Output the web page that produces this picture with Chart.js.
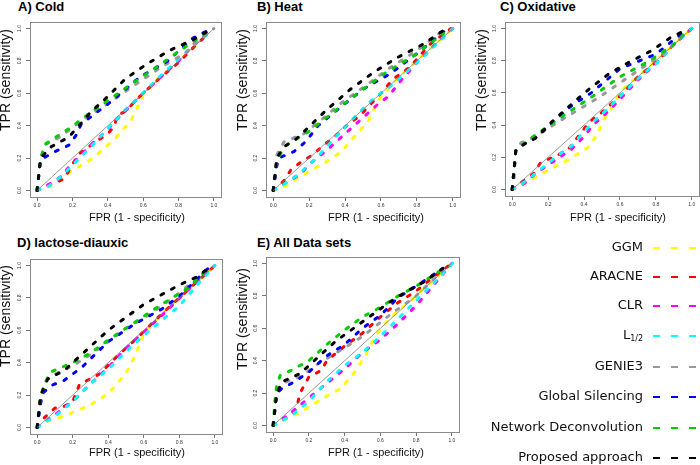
<!DOCTYPE html>
<html>
<head>
<meta charset="utf-8">
<script src="https://cdn.jsdelivr.net/npm/chart.js@4.4.1/dist/chart.umd.min.js"></script>
<style>
  body { margin: 0; background: #fff; width: 700px; height: 465px; overflow: hidden; position: relative; font-family: "Liberation Sans", Arial, sans-serif; }
  canvas { position: absolute; }
  .ptitle { position: absolute; font: bold 13px/13px "Liberation Sans", Arial, sans-serif; color: #000; white-space: nowrap; }
  .lg-text { position: absolute; left: 440px; width: 203px; text-align: right; font: 13px/16px "DejaVu Sans", Verdana, sans-serif; color: #111; white-space: nowrap; }
  .lg-text sub { font-size: 8px; vertical-align: -2px; line-height: 0; }
  .lg-dash { position: absolute; left: 653px; height: 2px; }
  .lg-dash span { display: inline-block; position: absolute; top: 0; width: 7px; height: 2px; }
</style>
</head>
<body>

<div class="ptitle" style="left:18px;top:0px">A) Cold</div>
<div class="ptitle" style="left:257px;top:0px">B) Heat</div>
<div class="ptitle" style="left:500px;top:0px">C) Oxidative</div>
<div class="ptitle" style="left:17px;top:236px">D) lactose-diauxic</div>
<div class="ptitle" style="left:257px;top:236px">E) All Data sets</div>

<canvas id="cold" width="230" height="232" style="left:0;top:0"></canvas>
<canvas id="heat" width="235" height="232" style="left:230px;top:0"></canvas>
<canvas id="oxi" width="235" height="232" style="left:465px;top:0"></canvas>
<canvas id="lac" width="230" height="233" style="left:0;top:232px"></canvas>
<canvas id="all" width="235" height="233" style="left:230px;top:232px"></canvas>

<div id="legend"></div>

<script>
// methods and colours (legend order)
var methods = ['GGM', 'ARACNE', 'CLR', 'L<sub>1/2</sub>', 'GENIE3', 'Global Silencing', 'Network Deconvolution', 'Proposed approach'];
var methodColors = ['#ffff00', '#ff0000', '#ff00ff', '#00ffff', '#999999', '#0000ff', '#00cd00', '#000000'];
var tickValues = [0, 0.2, 0.4, 0.6, 0.8, 1.0];
var diagonal = [[0, 0], [1, 1]];

// ROC points [FPR, TPR]
// A) Cold
var coldGGM = [[0,0],[0.08,0.03],[0.19,0.12],[0.29,0.18],[0.38,0.26],[0.44,0.32],[0.53,0.43],[0.57,0.52],[0.6,0.59],[0.69,0.7],[0.8,0.79],[0.9,0.9],[0.97,0.97]];
var coldARACNE = [[0,0],[0.07,0.035],[0.15,0.07],[0.19,0.14],[0.23,0.22],[0.33,0.3],[0.4,0.35],[0.44,0.4],[0.45,0.46],[0.5,0.49],[0.58,0.58],[0.7,0.7],[0.8,0.79],[0.9,0.9],[0.97,0.97]];
var coldCLR = [[0,0],[0.07,0.04],[0.14,0.09],[0.19,0.16],[0.24,0.21],[0.33,0.31],[0.4,0.375],[0.44,0.43],[0.49,0.48],[0.58,0.58],[0.65,0.65],[0.75,0.75],[0.8,0.8],[0.9,0.92],[0.97,0.97]];
var coldL12 = [[0,0],[0.07,0.03],[0.14,0.09],[0.24,0.2],[0.33,0.3],[0.44,0.43],[0.5,0.5],[0.56,0.56],[0.7,0.71],[0.85,0.86],[0.9,0.91],[0.97,0.97]];
var coldGENIE3 = [[0,0],[0.01,0.1],[0.02,0.19],[0.04,0.28],[0.13,0.33],[0.25,0.43],[0.42,0.55],[0.55,0.65],[0.7,0.76],[0.84,0.85],[0.95,0.96],[1,1]];
var coldGlobal = [[0,0],[0.02,0.19],[0.1,0.24],[0.18,0.28],[0.22,0.34],[0.25,0.41],[0.42,0.55],[0.58,0.7],[0.74,0.8],[0.88,0.94],[0.96,0.985]];
var coldND = [[0,0],[0.02,0.2],[0.05,0.29],[0.185,0.385],[0.3,0.48],[0.42,0.57],[0.55,0.67],[0.7,0.78],[0.83,0.88],[0.95,0.97],[1,1]];
var coldProposed = [[0,0],[0.02,0.2],[0.08,0.27],[0.18,0.33],[0.3,0.48],[0.39,0.57],[0.5,0.69],[0.62,0.78],[0.75,0.865],[0.88,0.93],[0.96,0.98]];

// B) Heat
var heatGGM = [[0,0],[0.07,0.03],[0.2,0.12],[0.3,0.18],[0.38,0.24],[0.45,0.33],[0.53,0.43],[0.56,0.5],[0.6,0.58],[0.7,0.7],[0.8,0.8],[0.9,0.9],[1,1]];
var heatARACNE = [[0,0],[0.06,0.06],[0.1,0.13],[0.16,0.18],[0.22,0.22],[0.28,0.28],[0.34,0.33],[0.41,0.4],[0.49,0.47],[0.54,0.53],[0.6,0.6],[0.67,0.69],[0.76,0.76],[0.87,0.9],[0.99,1]];
var heatCLR = [[0,0],[0.06,0.04],[0.15,0.1],[0.21,0.17],[0.3,0.25],[0.4,0.35],[0.5,0.45],[0.58,0.53],[0.64,0.58],[0.72,0.69],[0.8,0.79],[0.9,0.9],[1,1]];
var heatL12 = [[0,0],[0.05,0.03],[0.14,0.1],[0.24,0.2],[0.33,0.31],[0.45,0.45],[0.55,0.56],[0.65,0.64],[0.75,0.74],[0.85,0.84],[1,1]];
var heatGENIE3 = [[0,0],[0.01,0.05],[0.02,0.22],[0.06,0.3],[0.17,0.35],[0.26,0.43],[0.39,0.55],[0.5,0.635],[0.64,0.75],[0.8,0.865],[0.95,0.99]];
var heatGlobal = [[0,0],[0.02,0.15],[0.03,0.2],[0.115,0.24],[0.18,0.3],[0.25,0.4],[0.37,0.51],[0.5,0.625],[0.65,0.72],[0.8,0.845],[0.95,0.98]];
var heatND = [[0,0],[0.02,0.18],[0.06,0.27],[0.2,0.365],[0.32,0.47],[0.47,0.6],[0.63,0.73],[0.78,0.83],[0.95,0.97]];
var heatProposed = [[0,0],[0.02,0.2],[0.06,0.27],[0.13,0.32],[0.29,0.49],[0.43,0.625],[0.56,0.73],[0.69,0.82],[0.83,0.9],[0.95,0.99]];

// C) Oxidative
var oxiGGM = [[0,0],[0.07,0.04],[0.2,0.12],[0.32,0.19],[0.42,0.26],[0.48,0.35],[0.5,0.42],[0.55,0.5],[0.6,0.6],[0.64,0.65],[0.7,0.7],[0.8,0.8],[1,1]];
var oxiARACNE = [[0,0],[0.02,0.02],[0.12,0.1],[0.16,0.17],[0.25,0.21],[0.32,0.26],[0.43,0.42],[0.5,0.48],[0.6,0.58],[0.7,0.7],[0.8,0.79],[0.9,0.9],[1,1]];
var oxiCLR = [[0,0],[0.07,0.04],[0.13,0.1],[0.25,0.19],[0.33,0.25],[0.4,0.33],[0.45,0.4],[0.52,0.47],[0.6,0.56],[0.7,0.68],[0.8,0.78],[0.9,0.9],[1,1]];
var oxiL12 = [[0,0],[0.06,0.04],[0.13,0.1],[0.24,0.2],[0.33,0.27],[0.4,0.36],[0.45,0.42],[0.53,0.5],[0.62,0.6],[0.72,0.71],[0.82,0.8],[0.9,0.9],[1,1]];
var oxiGENIE3 = [[0,0],[0.01,0.05],[0.015,0.15],[0.02,0.25],[0.05,0.29],[0.13,0.33],[0.3,0.45],[0.48,0.57],[0.65,0.7],[0.85,0.85],[0.97,0.98]];
var oxiGlobal = [[0,0],[0.02,0.24],[0.06,0.28],[0.13,0.32],[0.23,0.42],[0.33,0.52],[0.44,0.6],[0.6,0.75],[0.8,0.84],[0.9,0.93],[0.97,0.99]];
var oxiND = [[0,0],[0.02,0.24],[0.07,0.29],[0.13,0.34],[0.3,0.47],[0.45,0.58],[0.6,0.7],[0.75,0.79],[0.9,0.9],[0.97,0.98]];
var oxiProposed = [[0,0],[0.02,0.24],[0.065,0.28],[0.13,0.32],[0.23,0.43],[0.33,0.53],[0.43,0.625],[0.54,0.72],[0.65,0.79],[0.78,0.865],[0.89,0.95],[0.97,0.99]];

// D) lactose-diauxic
var lacGGM = [[0,0],[0.06,0.04],[0.15,0.07],[0.3,0.14],[0.4,0.21],[0.45,0.27],[0.52,0.37],[0.56,0.47],[0.6,0.58],[0.65,0.64],[0.7,0.7],[0.85,0.85],[1,1]];
var lacARACNE = [[0,0],[0.04,0.06],[0.1,0.12],[0.15,0.13],[0.2,0.16],[0.24,0.27],[0.3,0.3],[0.35,0.33],[0.45,0.44],[0.55,0.54],[0.7,0.7],[0.85,0.85],[1,1]];
var lacCLR = [[0,0],[0.1,0.08],[0.2,0.16],[0.3,0.27],[0.4,0.37],[0.5,0.49],[0.6,0.59],[0.7,0.69],[0.85,0.85],[1,1]];
var lacL12 = [[0,0],[0.1,0.07],[0.2,0.16],[0.3,0.27],[0.4,0.36],[0.5,0.47],[0.6,0.57],[0.7,0.66],[0.8,0.75],[0.9,0.88],[1,1]];
var lacGENIE3 = [[0,0],[0.01,0.08],[0.02,0.15],[0.04,0.28],[0.1,0.33],[0.2,0.38],[0.3,0.45],[0.4,0.53],[0.5,0.61],[0.65,0.71],[0.8,0.83],[0.96,0.98]];
var lacGlobal = [[0,0],[0.02,0.15],[0.03,0.21],[0.08,0.26],[0.15,0.29],[0.25,0.37],[0.4,0.53],[0.55,0.64],[0.7,0.73],[0.8,0.81],[0.96,0.98]];
var lacND = [[0,0],[0.02,0.2],[0.07,0.34],[0.2,0.4],[0.3,0.46],[0.4,0.54],[0.55,0.65],[0.7,0.76],[0.85,0.86],[0.96,0.98]];
var lacProposed = [[0,0],[0.02,0.2],[0.06,0.3],[0.15,0.35],[0.3,0.5],[0.4,0.6],[0.5,0.68],[0.6,0.76],[0.7,0.82],[0.8,0.88],[0.9,0.93],[0.96,0.98]];

// E) All Data sets
var allGGM = [[0,0],[0.07,0.04],[0.15,0.08],[0.28,0.17],[0.38,0.23],[0.45,0.32],[0.52,0.44],[0.57,0.55],[0.65,0.66],[0.8,0.8],[1,1]];
var allARACNE = [[0,0],[0.08,0.05],[0.13,0.1],[0.15,0.2],[0.2,0.3],[0.27,0.34],[0.3,0.4],[0.4,0.49],[0.5,0.57],[0.6,0.67],[0.7,0.76],[0.8,0.83],[0.9,0.92],[1,1]];
var allCLR = [[0,0],[0.1,0.08],[0.2,0.17],[0.3,0.26],[0.4,0.35],[0.5,0.45],[0.6,0.53],[0.7,0.63],[0.8,0.74],[0.9,0.87],[1,1]];
var allL12 = [[0,0],[0.1,0.06],[0.2,0.15],[0.3,0.27],[0.4,0.37],[0.5,0.45],[0.6,0.55],[0.7,0.66],[0.8,0.77],[0.9,0.88],[1.02,1.02]];
var allGENIE3 = [[0,0],[0.01,0.1],[0.02,0.2],[0.05,0.26],[0.15,0.3],[0.25,0.38],[0.4,0.48],[0.5,0.55],[0.65,0.68],[0.8,0.8],[0.95,0.96]];
var allGlobal = [[0,0],[0.01,0.1],[0.02,0.2],[0.05,0.23],[0.12,0.27],[0.2,0.33],[0.3,0.43],[0.4,0.5],[0.5,0.6],[0.6,0.68],[0.7,0.79],[0.8,0.86],[0.95,0.97]];
var allND = [[0,0],[0.01,0.15],[0.02,0.25],[0.04,0.31],[0.1,0.34],[0.2,0.4],[0.3,0.5],[0.4,0.59],[0.5,0.67],[0.6,0.73],[0.7,0.8],[0.8,0.86],[0.9,0.93],[0.97,0.98]];
var allProposed = [[0,0],[0.02,0.2],[0.05,0.27],[0.15,0.32],[0.25,0.42],[0.35,0.52],[0.45,0.6],[0.55,0.68],[0.65,0.76],[0.75,0.83],[0.85,0.89],[0.95,0.97]];

// panel layout: y-axis width, x-axis height, padding, title positions (canvas px)
var panels = [
    { id: 'cold', curves: [coldGGM, coldARACNE, coldCLR, coldL12, coldGENIE3, coldGlobal, coldND, coldProposed],
      yW: 30, xH: 35, padT: 22, padR: 9, xt: [137, 218], yt: [6, 80] },
    { id: 'heat', curves: [heatGGM, heatARACNE, heatCLR, heatL12, heatGENIE3, heatGlobal, heatND, heatProposed],
      yW: 36, xH: 35, padT: 22, padR: 5, xt: [146, 218], yt: [13, 80] },
    { id: 'oxi', curves: [oxiGGM, oxiARACNE, oxiCLR, oxiL12, oxiGENIE3, oxiGlobal, oxiND, oxiProposed],
      yW: 40, xH: 36, padT: 22, padR: 1, xt: [153, 218], yt: [17, 80] },
    { id: 'lac', curves: [lacGGM, lacARACNE, lacCLR, lacL12, lacGENIE3, lacGlobal, lacND, lacProposed],
      yW: 30, xH: 31, padT: 27, padR: 8, xt: [137, 221], yt: [6, 84] },
    { id: 'all', curves: [allGGM, allARACNE, allCLR, allL12, allGENIE3, allGlobal, allND, allProposed],
      yW: 36, xH: 33, padT: 25, padR: 6, xt: [146, 221], yt: [13, 87] }
];

var toXY = pts => pts.map(p => ({ x: p[0], y: p[1] }));

var panelDecor = {
    id: 'panelDecor',
    afterDraw: function (chart, args, o) {
        var ctx = chart.ctx, a = chart.chartArea, ys = chart.scales.y;
        ctx.save();
        ctx.strokeStyle = '#8a8a8a';
        ctx.lineWidth = 1;
        ctx.strokeRect(Math.round(a.left) + 0.5, Math.round(a.top) + 0.5, Math.round(a.right - a.left), Math.round(a.bottom - a.top));
        ctx.fillStyle = '#333';
        ctx.textAlign = 'center';
        ctx.textBaseline = 'middle';
        ctx.font = '5px "Liberation Sans"';
        tickValues.forEach(function (v) {
            ctx.save();
            ctx.translate(a.left - 10, ys.getPixelForValue(v));
            ctx.rotate(-Math.PI / 2);
            ctx.fillText(v.toFixed(1), 0, 0);
            ctx.restore();
        });
        ctx.fillStyle = '#111';
        ctx.font = '11px "Liberation Sans"';
        ctx.fillText('FPR (1 - specificity)', o.xt[0], o.xt[1]);
        ctx.save();
        ctx.translate(o.yt[0], o.yt[1]);
        ctx.rotate(-Math.PI / 2);
        ctx.font = '14px "Liberation Sans"';
        ctx.fillText('TPR (sensitivity)', 0, 0);
        ctx.restore();
        ctx.restore();
    }
};

var setTicks = function (scale) {
    scale.ticks = tickValues.map(v => ({ value: v }));
};

panels.forEach(function (p) {
    var datasets = [{
        data: toXY(diagonal),
        borderColor: '#808080',
        borderWidth: 0.8,
        order: 0
    }];
    p.curves.forEach(function (c, i) {
        datasets.push({
            data: toXY(c),
            borderColor: methodColors[i],
            borderWidth: 3,
            borderDash: [3, 9],
            borderCapStyle: 'round',
            order: methods.length - i
        });
    });

    new Chart(document.getElementById(p.id), {
        type: 'scatter',
        data: { datasets: datasets },
        options: {
            responsive: false,
            animation: false,
            devicePixelRatio: 1,
            showLine: true,
            elements: { point: { radius: 0 }, line: { tension: 0 } },
            layout: { padding: { top: p.padT, right: p.padR, left: 0, bottom: 0 } },
            plugins: {
                legend: { display: false },
                tooltip: { enabled: false },
                panelDecor: { xt: p.xt, yt: p.yt }
            },
            scales: {
                x: {
                    type: 'linear', min: -0.04, max: 1.04,
                    afterBuildTicks: setTicks,
                    afterFit: function (s) { s.height = p.xH; },
                    border: { display: false },
                    grid: { drawOnChartArea: false, tickLength: 4, color: '#777' },
                    ticks: { autoSkip: false, maxRotation: 0, padding: 1.5, color: '#333',
                             font: { size: 5, family: 'Liberation Sans' },
                             callback: v => v.toFixed(1) }
                },
                y: {
                    type: 'linear', min: -0.04, max: 1.04,
                    afterBuildTicks: setTicks,
                    afterFit: function (s) { s.width = p.yW; },
                    border: { display: false },
                    grid: { drawOnChartArea: false, tickLength: 4, color: '#777' },
                    ticks: { display: false }
                }
            }
        },
        plugins: [panelDecor]
    });
});

// legend panel
var legendY = [248, 277, 306, 336, 367, 397, 428, 458];
var lg = document.getElementById('legend');
methods.forEach(function (m, i) {
    var t = document.createElement('div');
    t.className = 'lg-text';
    t.style.top = (legendY[i] - 9) + 'px';
    t.innerHTML = m;
    lg.appendChild(t);
    var d = document.createElement('div');
    d.className = 'lg-dash';
    d.style.top = (legendY[i] - 1) + 'px';
    for (var k = 0; k < 3; k++) {
        var s = document.createElement('span');
        s.style.left = (k * 18) + 'px';
        s.style.background = methodColors[i];
        d.appendChild(s);
    }
    lg.appendChild(d);
});
</script>
</body>
</html>
